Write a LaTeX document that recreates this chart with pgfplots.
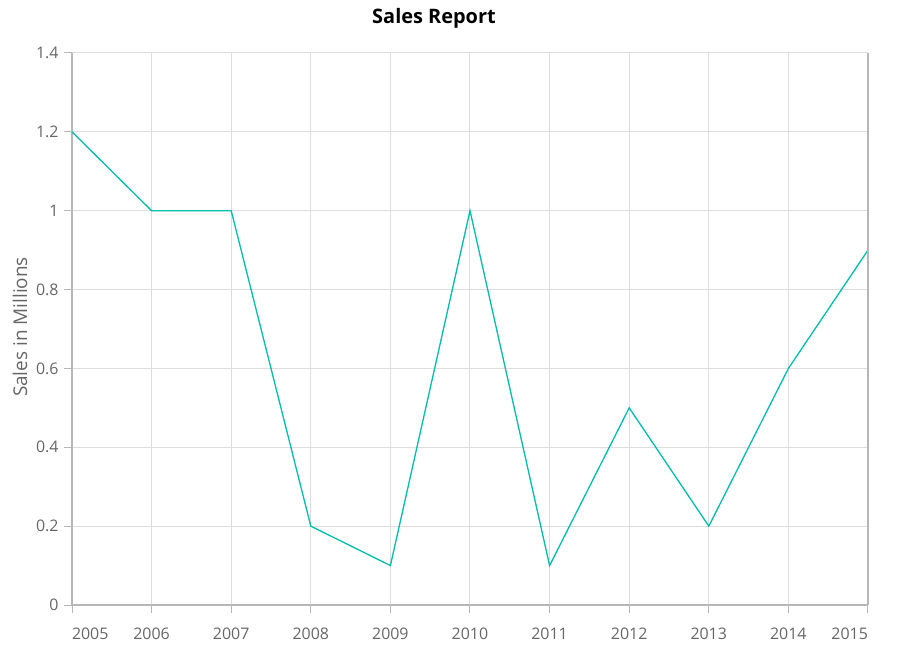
\documentclass[border=0pt]{standalone}
\usepackage{fontspec}
\setmainfont{Open Sans}
\usepackage{pgfplots}
\pgfplotsset{compat=1.18}
\definecolor{linec}{RGB}{0,189,174}
\definecolor{gridc}{RGB}{221,221,221}
\definecolor{axisc}{RGB}{183,183,183}
\definecolor{labc}{RGB}{102,102,102}
\begin{document}
\begin{tikzpicture}
\begin{axis}[
  at={(0,0)}, anchor=south west,
  scale only axis, width=796bp, height=552bp,
  xmin=2005, xmax=2015, ymin=0, ymax=1.4,
  xtick={2005,...,2015},
  xticklabels={\makebox[0pt][l]{2005},2006,2007,2008,2009,2010,2011,2012,2013,2014,\makebox[0pt][r]{2015}},
  ytick={0,0.2,0.4,0.6,0.8,1,1.2,1.4},
  yticklabels={0,0.2,0.4,0.6,0.8,1,1.2,1.4},
  grid=major,
  major grid style={gridc, line width=1bp},
  axis line style={axisc, line width=1.2bp},
  axis x line*=bottom,
  axis y line*=left,
  tick align=outside,
  major tick length=8bp,
  tick style={axisc, line width=1bp},
  ticklabel style={font=\fontsize{16}{19}\selectfont, text=labc},
  xticklabel style={yshift=-11bp},
  yticklabel style={xshift=-2bp},
  /pgf/number format/assume math mode=true,
  clip=false,
]
\addplot[linec, line width=1.3bp] coordinates {
(2005,1.2) (2006,1.0) (2007,1.0) (2008,0.2) (2009,0.1) (2010,1.0)
(2011,0.1) (2012,0.5) (2013,0.2) (2014,0.6) (2015,0.9)};
\draw[axisc, line width=1.2bp] (axis cs:2015,0) -- (axis cs:2015,1.4);
\end{axis}
\node[font=\fontsize{20}{24}\selectfont\bfseries] at (362bp,587bp) {Sales Report};
\node[rotate=90, font=\fontsize{19}{23}\selectfont, text=labc] at (-52bp,278bp) {Sales in Millions};
\pgfresetboundingbox
\path[use as bounding box] (-72bp,-53bp) rectangle (826bp,605bp);
\end{tikzpicture}
\end{document}
